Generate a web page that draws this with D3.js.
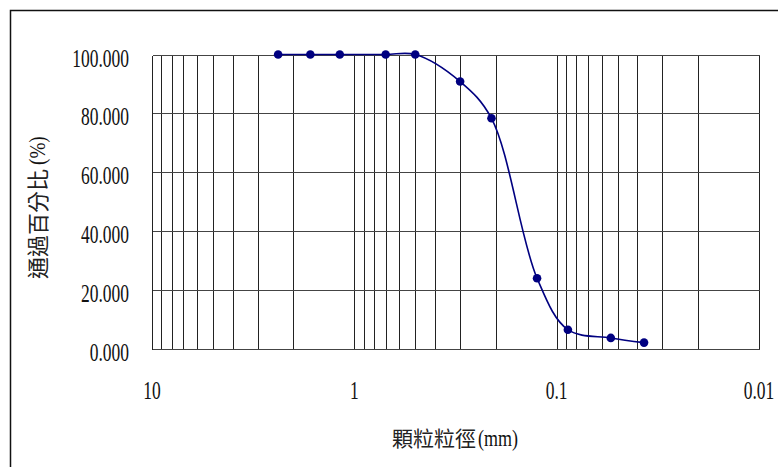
<!DOCTYPE html>
<html lang="zh-Hant">
<head>
<meta charset="UTF-8">
<title>顆粒粒徑分布</title>
<script src="https://d3js.org/d3.v7.min.js"></script>
<style>
  body { margin: 0; background: #fff; }
  svg { display: block; }
  .num { font-family: "Liberation Serif", "DejaVu Serif", serif; fill: #111; }
  .cjk { font-family: "Noto Sans CJK TC", "Noto Sans CJK JP", sans-serif; fill: #222; }
</style>
</head>
<body>
<svg id="chart" width="778" height="467"></svg>
<script>
// grain size (mm) and percent passing
const sizes   = [2.38, 1.65, 1.18, 0.70, 0.50, 0.30, 0.21, 0.125, 0.088, 0.054, 0.037];
const passing = [100, 100, 100, 100, 100, 90.8, 78.3, 23.9, 6.4, 3.6, 2.0];

const xTickValues = [10, 1, 0.1, 0.01];
const xTickLabels = ["10", "1", "0.1", "0.01"];
const yTickValues = [0, 20, 40, 60, 80, 100];
const yTickLabels = ["0.000", "20.000", "40.000", "60.000", "80.000", "100.000"];

const svg = d3.select("#chart");

// outer frame
svg.append("rect")
  .attr("x", 10.5).attr("y", 10.5)
  .attr("width", 790).attr("height", 470)
  .attr("fill", "none").attr("stroke", "#111").attr("stroke-width", 1.5);

const x = d3.scaleLog().domain([10, 0.01]).range([152, 759]);
const y = d3.scaleLinear().domain([0, 100]).range([348.5, 54.5]);

const snap = v => Math.round(v) + 0.5;

// vertical grid at every log tick
const grid = svg.append("g").attr("stroke", "#222").attr("stroke-width", 1).attr("shape-rendering", "crispEdges");
grid.selectAll("line.v").data(x.ticks()).join("line")
  .attr("class", "v")
  .attr("x1", d => snap(x(d))).attr("x2", d => snap(x(d)))
  .attr("y1", snap(y(100))).attr("y2", snap(y(0)));

grid.selectAll("line.h").data(yTickValues).join("line")
  .attr("class", "h")
  .attr("x1", snap(x(10))).attr("x2", snap(x(0.01)))
  .attr("y1", d => snap(y(d))).attr("y2", d => snap(y(d)))
  .attr("stroke", "#444");

// y tick labels (condensed serif)
svg.append("g").selectAll("text").data(yTickValues).join("text")
  .attr("class", "num")
  .attr("font-size", 25)
  .attr("text-anchor", "end")
  .attr("transform", d => `translate(129,${y(d) + 12}) scale(0.7,1)`)
  .text((d, i) => yTickLabels[i]);

// x tick labels
svg.append("g").selectAll("text").data(xTickValues).join("text")
  .attr("class", "num")
  .attr("font-size", 25)
  .attr("text-anchor", "middle")
  .attr("transform", d => `translate(${x(d)},399) scale(0.7,1)`)
  .text((d, i) => xTickLabels[i]);

// axis titles
const xt = svg.append("g").attr("transform", "translate(392,446)");
xt.append("text").attr("class", "cjk").attr("font-size", 21).attr("x", 0).text("顆粒粒徑");
xt.append("text").attr("class", "num").attr("font-size", 24)
  .attr("transform", "translate(86,0) scale(0.75,1)").text("(mm)");

const yt = svg.append("g").attr("transform", "translate(46,279) rotate(-90)");
yt.append("text").attr("class", "cjk").attr("font-size", 22).attr("x", 0).text("通過百分比");
yt.append("text").attr("class", "num").attr("font-size", 24)
  .attr("transform", "translate(114,-1) scale(0.8,1)").text("(%)");

// smoothed curve with markers
const pts = sizes.map((s, i) => [s, passing[i]]);
const line = d3.line()
  .x(d => x(d[0])).y(d => y(d[1]))
  .curve(d3.curveCatmullRom.alpha(0.5));

svg.append("path")
  .datum(pts)
  .attr("d", line)
  .attr("fill", "none")
  .attr("stroke", "#000080")
  .attr("stroke-width", 1.6);

svg.append("g").selectAll("circle").data(pts).join("circle")
  .attr("cx", d => x(d[0])).attr("cy", d => y(d[1]))
  .attr("r", 4.3)
  .attr("fill", "#000080");
</script>
</body>
</html>
